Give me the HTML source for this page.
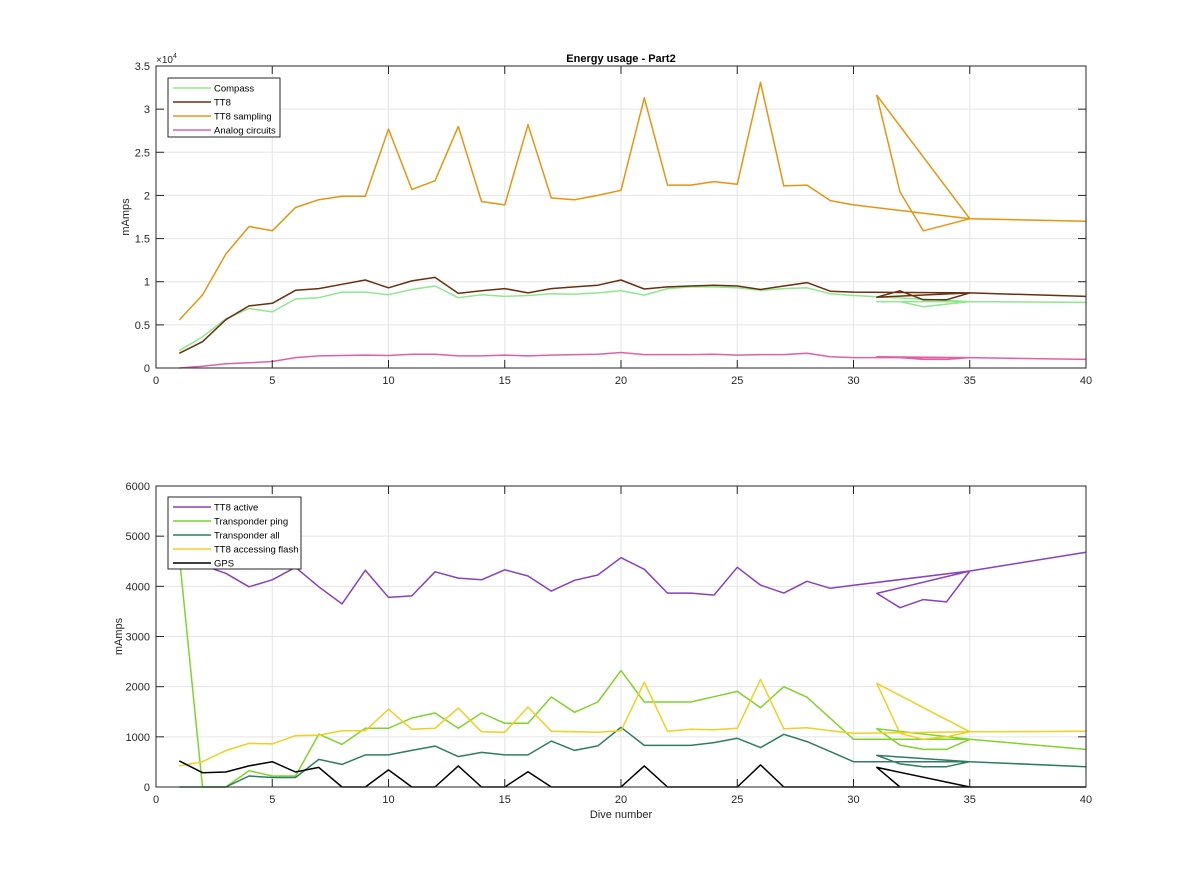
<!DOCTYPE html>
<html><head><meta charset="utf-8"><style>
body{margin:0;background:#fff;}
svg{display:block;font-family:"Liberation Sans",Arial,sans-serif;}
</style></head><body>
<svg id="chart" width="1200" height="885" viewBox="0 0 1200 885" xmlns="http://www.w3.org/2000/svg">
<rect width="1200" height="885" fill="#fff"/>
<g id="top"></g>
<g id="bot"></g>
</svg>
<script>
// Shared dive order (MATLAB plot order)
const diveX = [1,2,3,4,5,6,7,8,9,10,11,12,13,14,15,16,17,18,19,20,21,22,23,24,25,26,27,28,29,30,35,31,32,33,34,35,40];
// Top panel series (mAmps)
const compass = [2000,3600,5700,6900,6500,8000,8150,8800,8800,8500,9100,9500,8150,8500,8300,8400,8600,8550,8700,8950,8450,9200,9400,9400,9300,9000,9200,9300,8600,8400,7700,7700,7700,7100,7400,7700,7600];
const tt8 = [1700,3050,5600,7200,7500,9000,9200,9700,10200,9300,10100,10500,8650,8950,9200,8700,9200,9400,9600,10200,9150,9400,9500,9600,9500,9100,9500,9900,8900,8800,8700,8200,8950,7900,7900,8700,8300];
const tt8Sampling = [5560,8460,13200,16400,15900,18600,19500,19900,19900,27700,20700,21700,28000,19300,18900,28200,19700,19500,20000,20600,31300,21200,21200,21600,21300,33100,21100,21200,19400,18900,17300,31600,20400,15900,16600,17300,17000];
const analog = [0,200,500,600,750,1200,1400,1450,1500,1450,1600,1600,1400,1400,1500,1400,1500,1550,1600,1800,1550,1550,1550,1600,1500,1550,1550,1700,1300,1200,1200,1300,1200,1000,1000,1200,1000];
// Bottom panel series (mAmps)
const tt8Active = [4500,4420,4260,3990,4130,4380,3990,3650,4320,3780,3810,4290,4165,4130,4330,4205,3905,4120,4225,4570,4340,3865,3865,3825,4380,4025,3865,4100,3960,4020,4305,3860,3575,3735,3690,4305,4680];
const transPing = [4600,0,0,325,220,220,1055,850,1170,1170,1375,1475,1170,1475,1270,1270,1795,1490,1695,2320,1695,1695,1695,1800,1905,1580,2000,1790,1370,950,950,1160,835,750,750,950,750];
const transAll = [0,0,0,220,190,190,550,450,640,640,730,815,605,690,640,640,915,730,820,1190,830,830,830,885,970,785,1050,905,705,505,505,630,460,405,405,505,405];
const flash = [420,505,725,870,860,1025,1035,1120,1120,1550,1150,1170,1575,1100,1090,1595,1110,1100,1090,1120,2090,1110,1150,1140,1170,2145,1160,1180,1120,1070,1100,2065,1070,950,1000,1100,1110];
const gps = [520,285,300,420,505,300,390,0,0,340,0,0,420,0,0,305,0,0,0,0,420,0,0,0,0,440,0,0,0,0,0,390,0,0,0,0,0];
// Tick labels
const xTicks = [0,5,10,15,20,25,30,35,40];
const topYTicks = [0,5000,10000,15000,20000,25000,30000,35000];
const topYLabels = ["0","0.5","1","1.5","2","2.5","3","3.5"];
const botYTicks = [0,1000,2000,3000,4000,5000,6000];
const botYLabels = ["0","1000","2000","3000","4000","5000","6000"];

const NS="http://www.w3.org/2000/svg";
function mk(parent,tag,attrs,text){const e=document.createElementNS(NS,tag);for(const k in attrs)e.setAttribute(k,attrs[k]);if(text!==undefined)e.textContent=text;parent.appendChild(e);return e;}

function panel(g, top, bottom, yMax, yTicks, yLabels, series, ylabelX, legendBox, prefix){
  const L=156,R=1086;
  const sx=v=>L+(v-0)/(40-0)*(R-L);
  const sy=v=>bottom-(v/yMax)*(bottom-top);
  const grid=mk(g,'g',{});
  
  
  xTicks.forEach(t=>{mk(grid,'line',{x1:sx(t),x2:sx(t),y1:top,y2:bottom,stroke:'#e5e5e5','stroke-width':1});});
  yTicks.forEach(t=>{mk(grid,'line',{x1:L,x2:R,y1:sy(t),y2:sy(t),stroke:'#e5e5e5','stroke-width':1});});
  const lines=mk(g,'g',{});
  
  
  series.forEach(s=>{
    const pts=s.vals.map((v,i)=>sx(diveX[i]).toFixed(1)+','+sy(v).toFixed(1)).join(' ');
    const pl=mk(lines,'polyline',{points:pts,fill:'none',stroke:s.color,'stroke-width':1.5,'stroke-linejoin':'round'});
    
    
  });
  const ax=mk(g,'g',{});
  
  
  mk(ax,'rect',{x:L,y:top,width:R-L,height:bottom-top,fill:'none',stroke:'#262626','stroke-width':1});
  xTicks.forEach(t=>{
    mk(ax,'line',{x1:sx(t),x2:sx(t),y1:bottom,y2:bottom-8,stroke:'#262626'});
    mk(ax,'line',{x1:sx(t),x2:sx(t),y1:top,y2:top+8,stroke:'#262626'});
    const tx=mk(ax,'text',{x:sx(t),y:bottom+16,'text-anchor':'middle','font-size':11,fill:'#262626'},String(t));
    
    
  });
  yTicks.forEach((t,i)=>{
    mk(ax,'line',{x1:L,x2:L+8,y1:sy(t),y2:sy(t),stroke:'#262626'});
    mk(ax,'line',{x1:R,x2:R-8,y1:sy(t),y2:sy(t),stroke:'#262626'});
    const ty=mk(ax,'text',{x:L-6,y:sy(t)+4,'text-anchor':'end','font-size':11,fill:'#262626'},yLabels[i]);
    
    
  });
  const yl=mk(ax,'text',{x:0,y:0,transform:`translate(${ylabelX},${(top+bottom)/2}) rotate(-90)`,'text-anchor':'middle','font-size':11,fill:'#262626'},'mAmps');
  
  
  const lg=mk(g,'g',{});
  
  
  mk(lg,'rect',{x:legendBox.x,y:legendBox.y,width:legendBox.w,height:legendBox.h,fill:'#fff',stroke:'#262626','stroke-width':1});
  series.forEach((s,i)=>{
    const yy=legendBox.y+10+i*14;
    const en=mk(lg,'g',{});
    
    
    mk(en,'line',{x1:legendBox.x+5,x2:legendBox.x+43,y1:yy,y2:yy,stroke:s.color,'stroke-width':1.5});
    mk(en,'text',{x:legendBox.x+46,y:yy+3.5,'font-size':9.5,fill:'#000'},s.label);
  });
}

const topG=document.getElementById('top');
panel(topG,66,368,35000,topYTicks,topYLabels,[
  {name:'compass-line',label:'Compass',color:'#8ee88e',vals:compass},
  {name:'tt8-line',label:'TT8',color:'#6b2f0e',vals:tt8},
  {name:'tt8-sampling-line',label:'TT8 sampling',color:'#e8940f',vals:tt8Sampling},
  {name:'analog-circuits-line',label:'Analog circuits',color:'#e060a8',vals:analog}
],129,{x:168,y:78,w:112,h:59},'top');
const botG=document.getElementById('bot');
panel(botG,486,787,6000,botYTicks,botYLabels,[
  {name:'tt8-active-line',label:'TT8 active',color:'#8a3fbf',vals:tt8Active},
  {name:'transponder-ping-line',label:'Transponder ping',color:'#7fd42a',vals:transPing},
  {name:'transponder-all-line',label:'Transponder all',color:'#2e7d62',vals:transAll},
  {name:'tt8-flash-line',label:'TT8 accessing flash',color:'#f0d020',vals:flash},
  {name:'gps-line',label:'GPS',color:'#000',vals:gps}
],122,{x:168,y:497,w:133,h:72},'bottom');

const svg=document.getElementById('chart');
const title=mk(svg,'text',{x:621,y:62,'text-anchor':'middle','font-size':11,'font-weight':'bold',fill:'#000'},'Energy usage - Part2');


const exp=mk(svg,'text',{x:156,y:63,'font-size':10,fill:'#262626'},'×10');


mk(exp,'tspan',{dy:-5,'font-size':7},'4');
const xl=mk(svg,'text',{x:621,y:818,'text-anchor':'middle','font-size':11,fill:'#262626'},'Dive number');


</script>
</body></html>
